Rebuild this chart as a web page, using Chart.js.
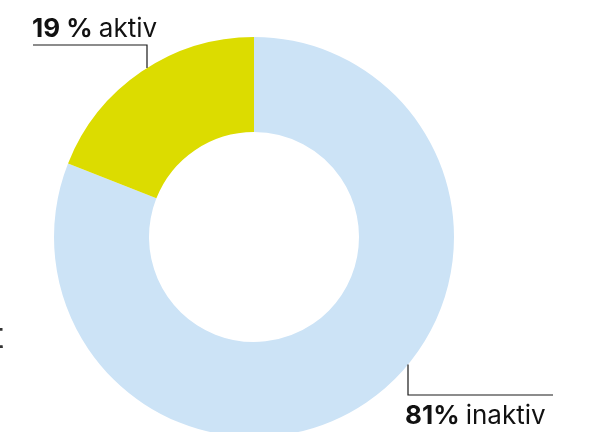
<!DOCTYPE html>
<html>
<head>
<meta charset="utf-8">
<script src="https://cdn.jsdelivr.net/npm/chart.js@4/dist/chart.umd.min.js"></script>
<style>
  html, body { margin: 0; padding: 0; background: #ffffff; overflow: hidden; }
  #wrap { position: absolute; left: 0; top: 0; width: 592px; height: 437px; }
</style>
</head>
<body>
<div id="wrap"><canvas id="c" width="592" height="437"></canvas></div>
<script>
const categories = ["inaktiv", "aktiv"];
const shares = [81, 19];
const percentLabels = ["81%", "19 %"];
const colors = ["#cce3f6", "#dcdc00"];

const FONT = "Inter, 'Open Sans', sans-serif";

const leaderPlugin = {
  id: "leaders",
  afterDraw(chart) {
    const ctx = chart.ctx;
    const meta = chart.getDatasetMeta(0);
    const arc0 = meta.data[0];
    const cx = arc0.x, cy = arc0.y, R = arc0.outerRadius;
    ctx.save();
    ctx.strokeStyle = "#1a1a1a";
    ctx.lineWidth = 1.2;
    ctx.fillStyle = "#111111";
    ctx.textBaseline = "alphabetic";

    // aktiv (index 1) leader: top-left
    {
      const lx = 147;
      const ly = cy - Math.sqrt(R * R - (lx - cx) * (lx - cx));
      ctx.beginPath();
      ctx.moveTo(33, 45);
      ctx.lineTo(lx, 45);
      ctx.lineTo(lx, ly);
      ctx.stroke();
      let x = 32;
      ctx.font = "bold 26px " + FONT;
      ctx.fillText(percentLabels[1], x, 37);
      x += ctx.measureText(percentLabels[1] + " ").width;
      ctx.font = "26px " + FONT;
      ctx.fillText(categories[1], x, 37);
    }
    // inaktiv (index 0) leader: bottom-right
    {
      const lx = 408;
      const ly = cy + Math.sqrt(R * R - (lx - cx) * (lx - cx));
      ctx.beginPath();
      ctx.moveTo(lx, ly);
      ctx.lineTo(lx, 395);
      ctx.lineTo(553, 395);
      ctx.stroke();
      let x = 405;
      ctx.font = "bold 26px " + FONT;
      ctx.fillText(percentLabels[0], x, 424);
      x += ctx.measureText(percentLabels[0] + " ").width;
      ctx.font = "26px " + FONT;
      ctx.fillText(categories[0], x, 424);
    }
    // cropped text fragment at left edge
    ctx.font = "36px " + FONT;
    ctx.fillStyle = "#333333";
    ctx.fillText("t", -8, 348);
    ctx.restore();
  }
};

new Chart(document.getElementById("c"), {
  type: "doughnut",
  data: {
    labels: categories,
    datasets: [{
      data: shares,
      backgroundColor: colors,
      borderWidth: 0,
      hoverOffset: 0
    }]
  },
  options: {
    responsive: false,
    animation: false,
    cutout: "52.5%",
    rotation: 0,
    layout: { padding: { left: 54, right: 138, top: 37, bottom: 0 } },
    plugins: {
      legend: { display: false },
      tooltip: { enabled: false }
    }
  },
  plugins: [leaderPlugin]
});
</script>
</body>
</html>
